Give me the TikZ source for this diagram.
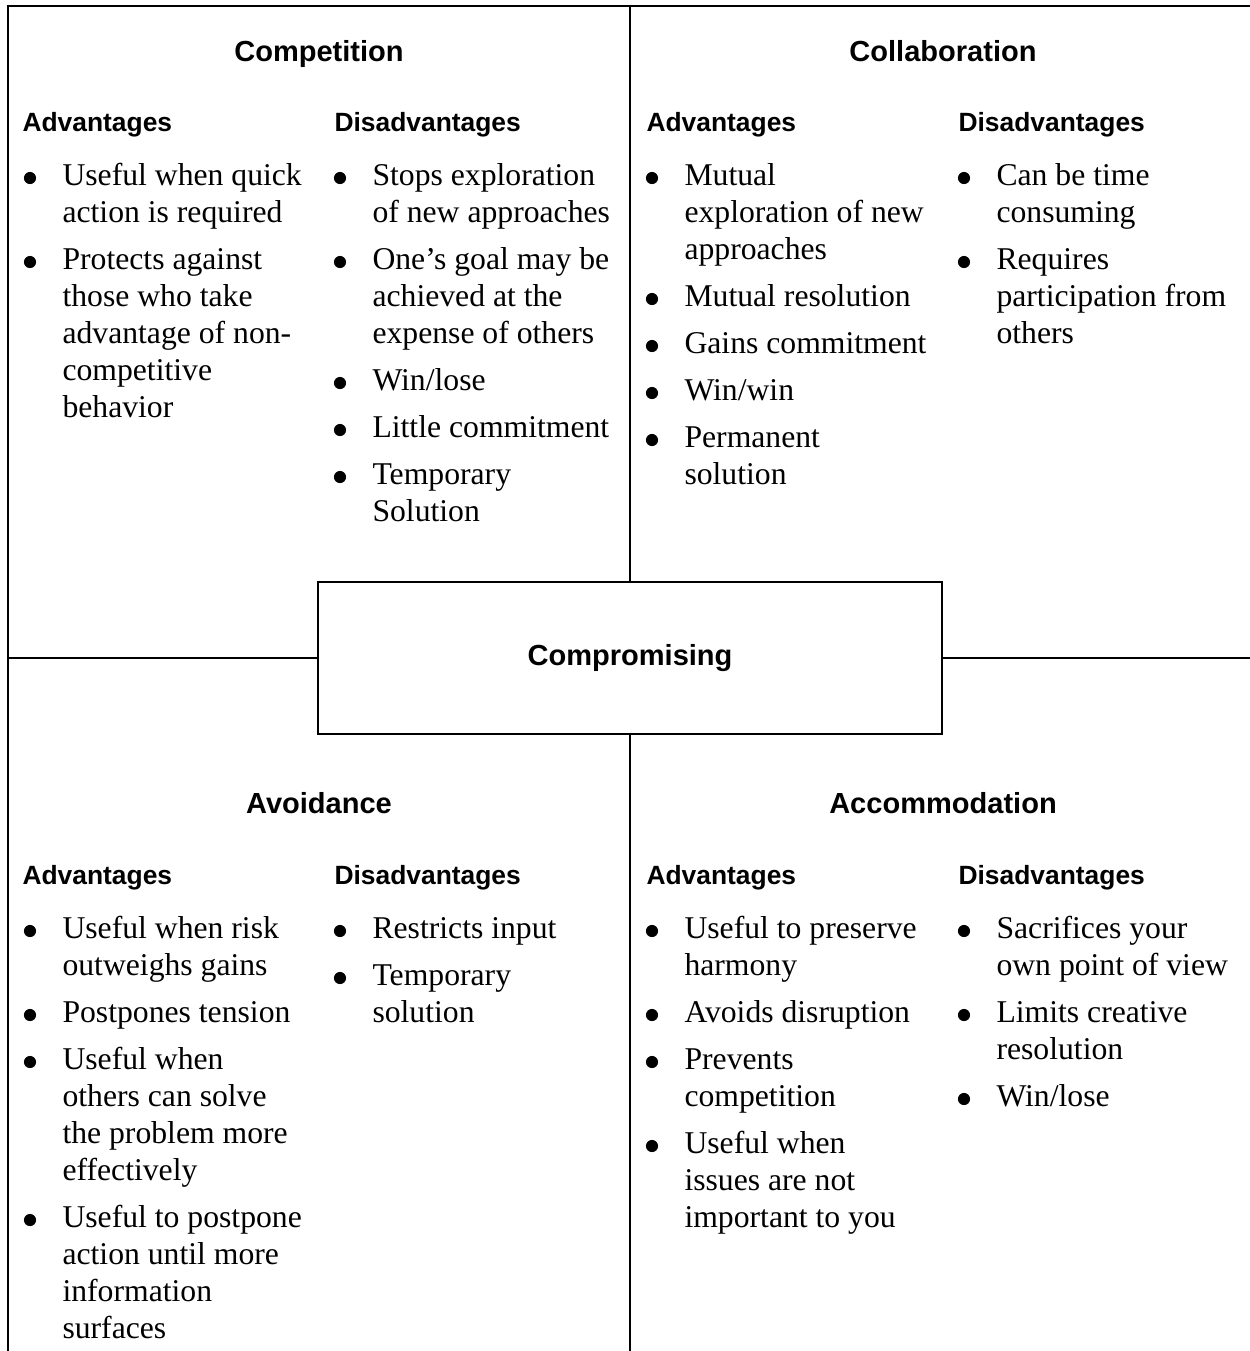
\documentclass[tikz,border=0pt]{standalone}
\usepackage{fontspec}
\setmainfont{Liberation Serif}
\setsansfont{Liberation Sans}
\newcommand\bitem[4]{\node[dot] (#1d) at (#2-32,#3-7) {}; \node[itm] (#1) at (#2,#3) {\begin{tabular}[t]{@{}l@{}}#4\end{tabular}};}
\begin{document}
\begin{tikzpicture}[x=0.3788pt,y=-0.3788pt,
  frame/.style={line width=0.75pt,black},
  ttl/.style={font=\sffamily\bfseries\fontsize{11}{13}\selectfont,anchor=base,inner sep=0},
  sub/.style={font=\sffamily\bfseries\fontsize{10}{12}\selectfont,anchor=base west,inner sep=0},
  itm/.style={font=\fontsize{12}{14.02}\selectfont,anchor=base west,inner sep=0},
  dot/.style={circle,fill=black,inner sep=0,minimum size=4.6pt},
  cbox/.style={draw,frame,minimum width=236.7pt,minimum height=57.6pt,inner sep=0,font=\sffamily\bfseries\fontsize{11}{13}\selectfont}]
\useasboundingbox (0,0) rectangle (1250,1351);
% frame
\coordinate (BL) at (8,1351);
\coordinate (TL) at (8,6);
\coordinate (TR) at (1250,6);
\coordinate (TM) at (630,6);
\coordinate (BM) at (630,1351);
\coordinate (ML) at (8,658);
\coordinate (MR) at (1250,658);
\draw[frame] (BL) -- (TL) -- (TR);
\node[cbox] (comp) at (630,658) {Compromising};
\draw[frame] (comp.north) -- (TM);
\draw[frame] (comp.south) -- (BM);
\draw[frame] (comp.west) -- (ML);
\draw[frame] (comp.east) -- (MR);
% titles
\node[ttl] (t1) at (319,61) {Competition};
\node[ttl] (t2) at (943,61) {Collaboration};
\node[ttl] (t3) at (319,813) {Avoidance};
\node[ttl] (t4) at (943,813) {Accommodation};
% subheadings
\node[sub] (s1a) at (22,131) {Advantages};
\node[sub] (s1d) at (334,131) {Disadvantages};
\node[sub] (s2a) at (646,131) {Advantages};
\node[sub] (s2d) at (958,131) {Disadvantages};
\node[sub] (s3a) at (22,884) {Advantages};
\node[sub] (s3d) at (334,884) {Disadvantages};
\node[sub] (s4a) at (646,884) {Advantages};
\node[sub] (s4d) at (958,884) {Disadvantages};
% Competition
\bitem{a1}{62}{185}{Useful when quick\\action is required}
\bitem{a2}{62}{269}{Protects against\\those who take\\advantage of non-\\competitive\\behavior}
\bitem{b1}{372}{185}{Stops exploration\\of new approaches}
\bitem{b2}{372}{269}{One’s goal may be\\achieved at the\\expense of others}
\bitem{b3}{372}{390}{Win/lose}
\bitem{b4}{372}{437}{Little commitment}
\bitem{b5}{372}{484}{Temporary\\Solution}
% Collaboration
\bitem{c1}{684}{185}{Mutual\\exploration of new\\approaches}
\bitem{c2}{684}{306}{Mutual resolution}
\bitem{c3}{684}{353}{Gains commitment}
\bitem{c4}{684}{400}{Win/win}
\bitem{c5}{684}{447}{Permanent\\solution}
\bitem{d1}{996}{185}{Can be time\\consuming}
\bitem{d2}{996}{269}{Requires\\participation from\\others}
% Avoidance
\bitem{e1}{62}{938}{Useful when risk\\outweighs gains}
\bitem{e2}{62}{1022}{Postpones tension}
\bitem{e3}{62}{1069}{Useful when\\others can solve\\the problem more\\effectively}
\bitem{e4}{62}{1227}{Useful to postpone\\action until more\\information\\surfaces}
\bitem{f1}{372}{938}{Restricts input}
\bitem{f2}{372}{985}{Temporary\\solution}
% Accommodation
\bitem{g1}{684}{938}{Useful to preserve\\harmony}
\bitem{g2}{684}{1022}{Avoids disruption}
\bitem{g3}{684}{1069}{Prevents\\competition}
\bitem{g4}{684}{1153}{Useful when\\issues are not\\important to you}
\bitem{h1}{996}{938}{Sacrifices your\\own point of view}
\bitem{h2}{996}{1022}{Limits creative\\resolution}
\bitem{h3}{996}{1106}{Win/lose}
\end{tikzpicture}
\end{document}
